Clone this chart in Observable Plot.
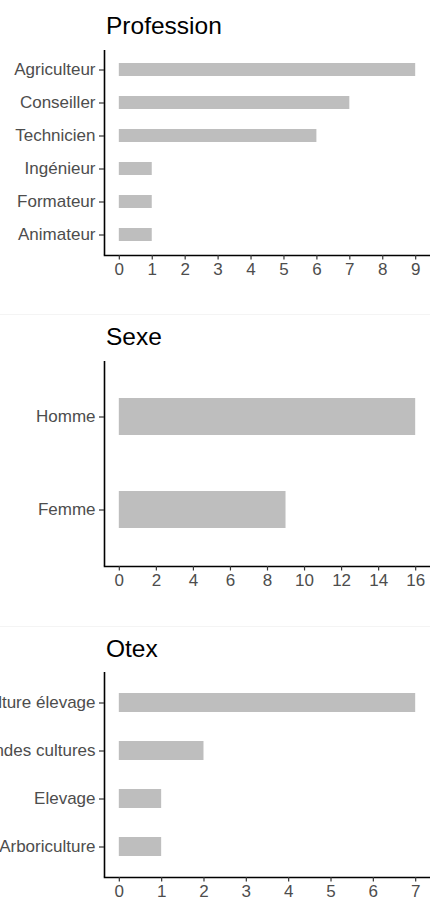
<!DOCTYPE html>
<html>
<head>
<meta charset="utf-8">
<script src="https://cdn.jsdelivr.net/npm/d3@7"></script>
<script src="https://cdn.jsdelivr.net/npm/@observablehq/plot@0.6"></script>
<style>
  html, body { margin: 0; padding: 0; background: #fff; }
  #wrap { width: 430px; height: 899px; overflow: hidden; padding-top: 3px; box-sizing: border-box; font-family: "Liberation Sans", Arial, sans-serif; }
  .panel { position: relative; width: 430px; box-sizing: border-box; }
  .panel.sep { border-top: 1px solid #f4f4f4; }
  .title { position: absolute; left: 106px; top: 11px; font-size: 24.5px; line-height: 24px; color: #000; white-space: nowrap; }
  .chart { position: absolute; left: 0; }
</style>
</head>
<body>
<div id="wrap"></div>
<script>
const professionCats = ["Agriculteur", "Conseiller", "Technicien", "Ingénieur", "Formateur", "Animateur"];
const professionVals = [9, 7, 6, 1, 1, 1];
const professionTicks = [0, 1, 2, 3, 4, 5, 6, 7, 8, 9];

const sexeCats = ["Homme", "Femme"];
const sexeVals = [16, 9];
const sexeTicks = [0, 2, 4, 6, 8, 10, 12, 14, 16];

const otexCats = ["Polyculture élevage", "Grandes cultures", "Elevage", "Arboriculture"];
const otexVals = [7, 2, 1, 1];
const otexTicks = [0, 1, 2, 3, 4, 5, 6, 7];

const panels = [
  {title: "Profession", cats: professionCats, vals: professionVals, ticks: professionTicks, h: 311, sep: false, top: 40, titleTop: 11},
  {title: "Sexe", cats: sexeCats, vals: sexeVals, ticks: sexeTicks, h: 312, sep: true, top: 39, titleTop: 10},
  {title: "Otex", cats: otexCats, vals: otexVals, ticks: otexTicks, h: 273, sep: true, top: 38, titleTop: 10}
];

const wrap = document.getElementById("wrap");
for (const p of panels) {
  const div = document.createElement("div");
  div.className = "panel" + (p.sep ? " sep" : "");
  div.style.height = p.h + "px";
  const t = document.createElement("div");
  t.className = "title";
  t.style.top = p.titleTop + "px";
  t.textContent = p.title;
  div.appendChild(t);

  const data = p.cats.map((c, i) => ({cat: c, value: p.vals[i]}));
  const max = d3.max(p.vals);
  const xmin = -0.05 * max, xmax = 1.05 * max;

  const chart = Plot.plot({
    width: 430,
    height: 250,
    marginLeft: 104,
    marginRight: 0,
    marginTop: 7,
    marginBottom: 38,
    style: {fontFamily: '"Liberation Sans", Arial, sans-serif', fontSize: "17px", color: "#4d4d4d", background: "transparent", overflow: "visible"},
    x: {domain: [xmin, xmax], label: null},
    y: {type: "band", domain: p.cats, paddingInner: 0.6, paddingOuter: 0.4, label: null},
    marks: [
      Plot.barX(data, {x: "value", y: "cat", fill: "#bebebe"}),
      Plot.ruleX([xmin], {stroke: "#000", strokeWidth: 1.6}),
      Plot.frame({anchor: "bottom", stroke: "#000", strokeWidth: 1.6}),
      Plot.axisX({ticks: p.ticks, tickFormat: d => String(d), tickSize: 4.5, tickPadding: 3, stroke: "#333", fill: "#4d4d4d", strokeWidth: 1.2, label: null}),
      Plot.axisY({tickSize: 5, tickPadding: 4, stroke: "#333", fill: "#4d4d4d", strokeWidth: 1.2, label: null})
    ]
  });
  chart.setAttribute("class", (chart.getAttribute("class") || "") + " chart");
  chart.style.top = p.top + "px";
  div.appendChild(chart);
  wrap.appendChild(div);
}
</script>
</body>
</html>
